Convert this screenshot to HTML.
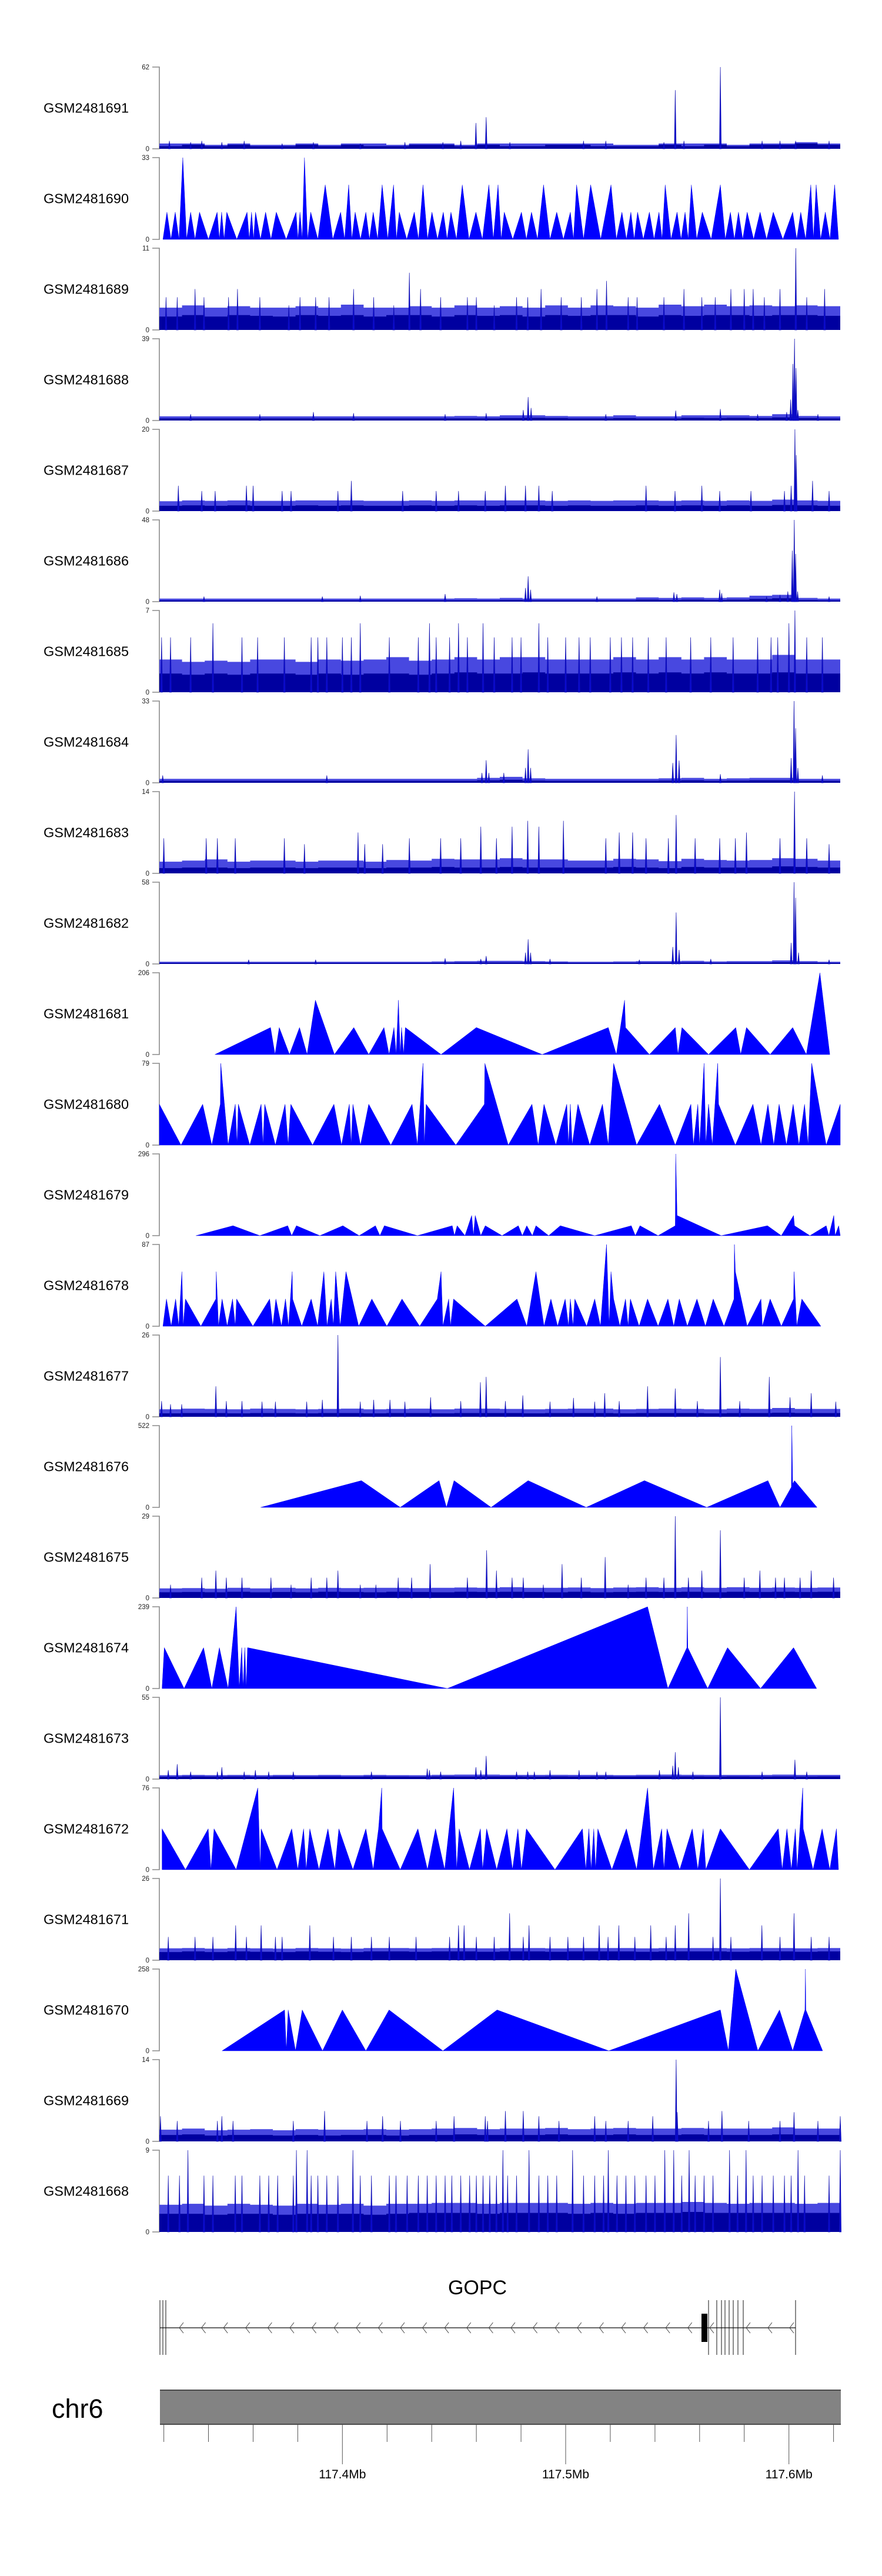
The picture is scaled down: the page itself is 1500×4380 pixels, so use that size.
<!DOCTYPE html>
<html><head><meta charset="utf-8"><title>GOPC tracks</title>
<style>
html,body{margin:0;padding:0;background:#fff;}
svg{display:block;font-family:"Liberation Sans",Arial,sans-serif;}
</style></head>
<body>
<svg id="chart" width="1500" height="4380" viewBox="0 0 1500 4380" xmlns="http://www.w3.org/2000/svg">
<rect x="0" y="0" width="1500" height="4380" fill="#fff"/>
<g id="tracks"></g>
<g id="gene">
  <text x="812" y="3901" font-size="34" text-anchor="middle" fill="#000">GOPC</text>
  <line x1="272" y1="3958" x2="1353" y2="3958" stroke="#333" stroke-width="1.6"/>
  <g id="chevrons"></g>
  <g id="exonlines"></g>
  <rect x="1193" y="3934" width="10" height="48" fill="#000"/>
</g>
<g id="ideo">
  <text x="88" y="4111" font-size="45" fill="#000">chr6</text>
  <rect x="272" y="4064" width="1158" height="58" fill="#838383"/>
  <line x1="272" y1="4064" x2="1430" y2="4064" stroke="#4a4a4a" stroke-width="2"/>
  <line x1="272" y1="4122" x2="1430" y2="4122" stroke="#4a4a4a" stroke-width="2"/>
  <g id="gticks"></g>
</g>
</svg>
<script>
// ---------- axis / layout constants ----------
const X0 = 117.318, X1 = 117.623;
const PX0 = 271, PX1 = 1429;
const tickMb = [117.32,117.34,117.36,117.38,117.40,117.42,117.44,117.46,117.48,117.50,117.52,117.54,117.56,117.58,117.60,117.62];
const majorMb = [117.4,117.5,117.6];
const majorLabels = ["117.4Mb","117.5Mb","117.6Mb"];

// ---------- track metadata ----------
const trackNames = ["GSM2481691","GSM2481690","GSM2481689","GSM2481688","GSM2481687","GSM2481686","GSM2481685","GSM2481684","GSM2481683","GSM2481682","GSM2481681","GSM2481680","GSM2481679","GSM2481678","GSM2481677","GSM2481676","GSM2481675","GSM2481674","GSM2481673","GSM2481672","GSM2481671","GSM2481670","GSM2481669","GSM2481668"];
const trackMax = [62,33,11,39,20,48,7,33,14,58,206,79,296,87,26,522,29,239,55,76,26,258,14,9];

// ---------- dense tracks: base band, upper band, spikes (kb offset / value) ----------
const base691=[2,3,2,3,2,2,3,2,3,2,2,3,3,2,3,2,2,3,3,2,2,2,3,2,3,2,3,3,4,3];
const mid691=[4,4,3,4,3,3,4,3,4,4,3,4,4,3,4,4,4,4,4,4,3,3,4,4,4,3,4,4,5,4];
const spkPos691=[4.5,14,19,28,38,55,69,90,110,127,135,141.8,146.4,157,190,200,226,231.1,235,251.3,270,278,285,300];
const spkVal691=[6,5,6,5,6,4,5,4,5,5,6,19.6,24,5,6,6,5,44.5,6,62,6,6,6,6];

const base689=[1.8,2,1.8,2,1.9,1.8,2,1.9,2,1.8,2,2,1.8,2,1.9,2,1.8,2,1.9,2,2,1.8,2,1.9,2,2,1.9,2,2,1.9];
const mid689=[3,3.3,3,3.2,3,3,3.2,3,3.4,3,3,3.2,3,3.3,3,3.2,3,3.3,3,3.3,3.2,3,3.4,3.2,3.4,3.2,3.3,3.2,3.3,3.2];
const spkPos689=[3,8,16,20,31,35,45,58,63,70,76,87,96,105,112,117,126,138,142,150,160,165,171,180,189,196,200.3,210,214,226,235,243,249,256,262,266,271,278,285.1,290,298];
const spkVal689=[4.4,4.4,5.5,4.4,4.4,5.5,4.4,3.3,4.4,4.4,4.4,5.5,4.4,3.3,7.7,5.5,4.4,4.4,4.4,3.3,4.4,4.4,5.5,4.4,4.4,5.5,6.6,4.4,4.4,4.4,5.5,4.4,4.4,5.5,5.5,5.5,4.4,5.5,11,4.4,5.5];

const base688=[1,1,1,1,1,1,1,1,1,1,1,1,1,1,1,1.2,1.3,1.2,1,1,1.2,1,1,1.3,1.2,1.3,1.2,1.5,1.2,1];
const mid688=[2,2,2,2,2,2,2,2,2,2,2,2,2,2.2,2,2.5,2.5,2.2,2,2,2.5,2,2,2.5,2.5,2.5,2.2,3,2.2,2];
const spkPos688=[14,45,69,87,128,146.4,163,165.2,166.5,200,231.3,251.3,268,281,282.8,283.8,284.5,285.2,286,295];
const spkVal688=[3,3,4,3.5,3,3.5,5,11.2,6,3,4.7,5.5,3,4,10,27,39,25,5,3];

const base687=[1.3,1.4,1.3,1.4,1.3,1.3,1.4,1.3,1.4,1.3,1.3,1.4,1.3,1.4,1.3,1.4,1.4,1.3,1.4,1.3,1.3,1.4,1.3,1.4,1.3,1.4,1.3,1.5,1.4,1.3];
const mid687=[2.4,2.6,2.5,2.6,2.5,2.5,2.6,2.6,2.6,2.5,2.5,2.6,2.5,2.6,2.6,2.6,2.6,2.5,2.6,2.5,2.6,2.6,2.5,2.6,2.5,2.6,2.5,2.8,2.6,2.5];
const spkPos687=[8.5,19,25,39,42,55,59,80,86,109,124,134,146,155,164,170,176,218,231,243,251,265,280,283,284.7,285.3,292.6,300];
const spkVal687=[6.2,4.9,4.9,6.2,6.2,4.9,4.9,4.9,7.4,4.9,4.9,4.9,4.9,6.2,6.2,6.2,4.9,6.2,4.9,6.2,4.9,4.9,4.9,6.2,20,13.7,7.4,4.9];

const base686=[0.8,0.8,0.8,0.8,0.8,0.8,0.8,0.8,0.8,0.8,0.8,0.8,0.8,0.8,0.8,1,0.8,0.8,0.8,0.8,0.8,1.2,1,1.2,1,1.2,1.6,2,1,0.8];
const mid686=[1.8,1.8,1.8,1.8,1.8,1.8,1.8,1.8,1.8,1.8,1.8,1.8,1.8,2,1.8,2.2,1.8,1.8,1.8,1.8,1.8,2.5,2.2,2.5,2.2,2.5,3.5,4,2.2,1.8];
const spkPos686=[20,73,90,128,164,165.2,166.3,196,230.5,231.8,251,251.9,272,278,281.5,283.5,284.4,285,285.9,300];
const spkVal686=[3,3,3.5,4.5,8,14.9,7,3,5.5,4.5,7,5,3,4,6,30,48,28,6,3];

const base685=[1.6,1.5,1.6,1.5,1.6,1.6,1.5,1.6,1.5,1.6,1.6,1.5,1.6,1.7,1.6,1.6,1.7,1.6,1.6,1.6,1.7,1.6,1.7,1.6,1.7,1.6,1.6,1.7,1.6,1.6];
const mid685=[2.8,2.6,2.7,2.6,2.8,2.8,2.6,2.8,2.7,2.8,3,2.7,2.8,3,2.8,3,3,2.8,2.8,2.8,3,2.8,3,2.8,3,2.8,2.8,3.2,2.8,2.8];
const spkPos685=[1,5,14,24,37,44,56,68,71,75,82,86,90,103,116,121,124,130,134,138,145,150,158,162,170,174,182,188,193,202,207,212,219,227,238,247,257,268,274,277,282,284.7,290,297];
const spkVal685=[4.7,4.7,4.7,5.9,4.7,4.7,4.7,4.7,4.7,4.7,4.7,4.7,5.9,4.7,4.7,5.9,4.7,4.7,5.9,4.7,5.9,4.7,4.7,4.7,5.9,4.7,4.7,4.7,4.7,4.7,4.7,4.7,4.7,4.7,4.7,4.7,4.7,4.7,4.7,4.7,5.9,7,4.7,4.7];

const base684=[0.8,0.8,0.8,0.8,0.8,0.8,0.8,0.8,0.8,0.8,0.8,0.8,0.8,0.8,1,1.2,0.9,0.8,0.8,0.8,0.8,0.8,0.9,1,0.8,0.9,1,1,0.8,0.8];
const mid684=[1.6,1.6,1.6,1.6,1.6,1.6,1.6,1.6,1.6,1.6,1.6,1.6,1.6,1.6,2,2.4,1.8,1.6,1.6,1.6,1.6,1.6,1.8,2,1.6,1.8,2,2,1.6,1.6];
const spkPos684=[1.5,75,144.5,146.4,147.6,154.3,164,165.2,166.3,230,231.5,232.8,251.3,283,284.3,285,286,297];
const spkVal684=[3,3,4,9.1,4,4,6,13.5,6,8,19.3,9,3.5,10,33,22,6,3];

const base683=[0.9,1,1,0.9,1,1,0.9,1,1,0.9,1,1,1.1,1,1,1.1,1,1,1,1,1.1,1,0.9,1.1,1,1,1,1.2,1.1,1];
const mid683=[2,2.2,2.4,2,2.2,2.2,2,2.2,2.2,2,2.3,2.2,2.5,2.4,2.4,2.6,2.4,2.4,2.2,2.2,2.5,2.4,2.1,2.5,2.3,2.2,2.3,2.6,2.5,2.2];
const spkPos683=[2,21,26,34,56,65,89,92,100,112,126,135,144,151,158,165,170,181,200,206,212,218,228,231.5,240,251,258,263,278,284.5,290,300];
const spkVal683=[6,6,6,6,6,5,7,5,5,6,6,6,8,6,8,9,8,9,6,7,7,6,6,10,6,6,6,7,6,14,6,5];

const base682=[0.8,0.8,0.8,0.8,0.8,0.8,0.8,0.8,0.8,0.8,0.8,0.8,0.8,0.9,1,1,1,0.9,0.8,0.8,0.8,0.9,0.9,1,0.8,0.9,0.9,1.2,0.9,0.8];
const mid682=[1.6,1.6,1.6,1.6,1.6,1.6,1.6,1.6,1.6,1.6,1.6,1.6,1.8,2,2.2,2.2,2,1.8,1.6,1.6,1.8,2,2,2.2,1.8,2,2,2.5,2,1.6];
const spkPos682=[40,70,128,144,146.4,164,165.2,166.3,175,215,230,231.5,232.8,247,283,284.3,285,286.3,300];
const spkVal682=[3,3,4,3.5,5.6,8,17.5,8,3.5,3,12,36.5,10,3.5,15,58,47,8,3];

const base677=[1.1,1.2,1.2,1.1,1.2,1.2,1.1,1.2,1.2,1.1,1.2,1.2,1.1,1.2,1.2,1.2,1.1,1.2,1.2,1.2,1.1,1.2,1.2,1.2,1.1,1.2,1.2,1.3,1.2,1.2];
const mid677=[2.4,2.6,2.5,2.4,2.6,2.5,2.4,2.5,2.6,2.4,2.5,2.6,2.4,2.6,2.6,2.5,2.4,2.5,2.6,2.6,2.4,2.5,2.6,2.5,2.4,2.6,2.5,2.8,2.5,2.5];
const spkPos677=[1,5,10,25.3,30,37,46,52,66,73,80,90,96,103.3,110,121.5,135,143.8,146.4,155,162.8,175,185.5,195,199.5,206,218.7,231.1,241,251.3,260,273.2,282.5,292,303];
const spkVal677=[5,4,4,9.7,5,5,4.8,4.8,4.8,5.4,26,4.8,5.4,5.4,4.8,6.2,5,11,12.7,5,6.8,4.8,6,4.8,7.5,5,9.7,9,5,19,5,12.7,6.2,7.5,4.8];

const base675=[2,2.1,2,2.2,2,2.1,2,2.2,2.1,2,2.2,2.1,2,2.2,2.1,2.2,2.1,2,2.2,2,2.1,2.2,2.1,2.2,2,2.2,2.1,2.2,2.1,2.2];
const mid675=[3.4,3.5,3.3,3.6,3.4,3.6,3.4,3.6,3.5,3.6,3.6,3.5,3.6,3.7,3.6,3.8,3.6,3.6,3.7,3.5,3.7,3.8,3.6,3.8,3.6,3.8,3.6,3.7,3.6,3.7];
const spkPos675=[5,19,25.3,30,37,50,59,68,75,80,90,97,107,113,121.3,138,146.6,151,158,163,172,180.4,189,199.7,210,218,226,231.1,237,243,251.3,262,269,276,280,287,292,302];
const spkVal675=[4.7,7.2,9.7,7.2,7.2,7.2,4.7,7.2,7.2,9.7,4.7,4.7,7.2,7.2,12,7.2,16.9,9.7,7.2,7.2,4.7,12,7.2,14.5,4.7,7.2,7.2,29,7.2,9.7,24,7.2,9.7,7.2,7.2,7.2,9.7,7.2];

const base673=[1.6,1.8,1.7,1.8,1.6,1.8,1.7,1.8,1.6,1.8,1.7,1.6,1.8,1.7,1.8,1.8,1.7,1.8,1.7,1.8,1.7,1.8,1.8,1.8,1.7,1.8,1.7,1.8,1.7,1.8];
const mid673=[2.6,2.8,2.7,2.8,2.6,2.8,2.7,2.8,2.6,2.8,2.7,2.6,2.9,3,3,2.8,2.8,2.9,2.8,2.8,2.7,2.9,3,2.9,2.8,2.8,2.8,3,2.8,2.8];
const spkPos673=[4,8,14,26,28,38,43,49,60,95,120,121,126,141.8,144,146.4,160,165,168,175,188,196,200,224,230,231.1,232.5,239,251.3,270,284.7,290];
const spkVal673=[6,10,5,5,8,5,6,5,5,5,7,6,5,8,6,15.6,5,5,5,6,6,5,5,6,9,18.1,8,5,55,5,13,5];

const base671=[2.6,2.8,2.6,2.8,2.7,2.6,2.8,2.7,2.6,2.8,2.8,2.7,2.8,2.8,2.7,2.8,2.8,2.7,2.8,2.8,2.8,2.7,2.8,2.8,2.8,2.7,2.8,2.8,2.7,2.8];
const mid671=[3.8,3.9,3.7,3.9,3.8,3.7,3.9,3.8,3.7,3.9,3.9,3.8,3.9,3.9,3.8,3.9,3.9,3.8,3.9,3.9,3.9,3.8,3.9,3.9,3.9,3.8,3.9,3.9,3.8,3.9];
const spkPos671=[4,16,24,34.2,39,45.6,52,55,67.4,78,86,95,103,115,130,134,136.5,142,150,156.9,163,165.6,175,183,190,197,201,205.8,213,220.1,227,231.1,237.1,248,251.3,256,269.9,278,284.3,292,300];
const spkVal671=[7.4,7.4,7.4,11.1,7.4,11.1,7.4,7.4,11.1,7.4,7.4,7.4,7.4,7.4,7.4,11.1,11.1,7.4,7.4,14.9,7.4,11.1,7.4,7.4,7.4,11.1,7.4,11.1,7.4,11.1,7.4,11.1,14.9,7.4,26,7.4,11.1,7.4,14.9,7.4,7.4];

const base669=[1.1,1.2,1,1.1,1.1,1,1.1,1,1.1,1.1,1,1.1,1.1,1.2,1.1,1.1,1.1,1.2,1.1,1.1,1.2,1.1,1.1,1.2,1.1,1.1,1.1,1.2,1.1,1.1];
const mid669=[2,2.2,1.9,2,2.1,1.9,2.1,2,2,2.1,2,2.1,2.2,2.3,2.1,2.2,2.2,2.3,2.1,2.2,2.3,2.2,2.2,2.3,2.2,2.2,2.2,2.4,2.2,2.2];
const spkPos669=[0.5,8,26,28,33,60,74,93,100,108,124,132,146,147,155,163,170,179,195,200,210,221,231.5,232,246,252,264,278,284.3,295,305];
const spkVal669=[4.3,3.5,3.5,4.3,3.5,3.5,5.2,3.5,4.3,3.5,3.5,4.3,4.3,3.5,5.2,5.2,4.3,3.5,4.3,3.5,3.5,4.3,14,5,3.5,5.2,3.5,3.5,5,3.5,4.3];

const base668=[2,2,1.9,2,2,1.9,2,2,2,1.9,2,2.1,2.1,2.1,2,2.1,2.1,2.1,2,2.1,2,2.1,2.1,2.2,2.1,2.1,2.1,2.1,2.1,2.1];
const mid668=[3,3.1,2.9,3.1,3,2.9,3.1,3,3.1,2.9,3.1,3.1,3.2,3.2,3.1,3.2,3.2,3.2,3.1,3.2,3.1,3.2,3.2,3.3,3.2,3.1,3.2,3.2,3.1,3.2];
const spkPos668=[12.8,61.4,66.2,86.7,153.9,165.6,185.1,201.1,226.4,230.4,237.3,255.4,262.8,286.1,305,4,9,20,24,34,37,45,49,53,60,68,71,75,80,90,95,103,106,111,116,120,124,128,131,135,139,142,145,148,151,156,160,170,174,178,190,195,199,205,209,213,218,222,234,240,244,248,259,266,270,275,280,283,289,300];
const spkVal668=[9,9,9,9,9,9,9,9,9,9,9,9,9,9,9,6.2,6.2,6.2,6.2,6.2,6.2,6.2,6.2,6.2,6.2,6.2,6.2,6.2,6.2,6.2,6.2,6.2,6.2,6.2,6.2,6.2,6.2,6.2,6.2,6.2,6.2,6.2,6.2,6.2,6.2,6.2,6.2,6.2,6.2,6.2,6.2,6.2,6.2,6.2,6.2,6.2,6.2,6.2,6.2,6.2,6.2,6.2,6.2,6.2,6.2,6.2,6.2,6.2,6.2,6.2];

// ---------- sparse (triangle) tracks: vertex positions (kb offset) / values ----------
const peakPos690=[3.4,7.1,10.5,14.0,18.0,25.9,27.9,30.2,39.3,41.3,43.1,47.6,52.4,61.2,63.0,65.0,67.8,74.3,81.2,84.8,87.7,92.5,95.8,99.8,104.9,107.5,114.2,118.1,122.1,127.2,130.6,135.7,141.8,147.6,151.7,154.5,162.2,166.7,172.1,178.0,184.1,186.9,193.2,202.3,207.2,211.2,214.2,219.5,223.8,226.6,231.9,235.5,238.3,243.2,251.3,255.8,259.4,263.3,269.1,275.0,283.7,287.3,291.8,294.2,298.3,302.5];
const peakVal690=[11,11,33,11,11,11,11,11,11,11,11,11,11,11,11,33,11,22,11,22,11,11,11,22,22,11,11,22,11,11,11,22,11,22,22,11,11,11,22,11,11,22,22,22,11,11,11,11,11,22,11,11,22,11,22,11,11,11,11,11,11,11,22,22,11,22];
const valleyPos690=[1.6,5.2,8.8,12.2,16.0,22.0,26.9,29.0,34.7,40.3,42.2,45.3,50.0,56.8,62.1,64.0,66.4,71.0,77.7,83.0,86.2,90.1,94.1,97.8,102.3,106.2,110.8,116.1,120.1,124.6,128.9,133.1,138.7,144.7,149.6,153.1,158.3,164.4,169.4,175.0,181.0,185.5,190.0,197.7,204.7,209.2,212.7,216.8,221.6,225.2,229.2,233.7,236.9,240.7,247.2,253.5,257.6,261.3,266.2,272.0,279.3,285.5,289.5,293.0,296.2,300.4,304.2];

const pos681=[24.9,49.8,51.8,53.7,58.3,62.8,66.2,69.9,78.4,87.1,93.8,100.6,102.9,105.1,106.1,107.1,107.9,108.5,109.4,110.2,126.2,142.0,171.5,201.1,204.7,208.4,208.8,219.5,231.1,232.3,234.1,246.0,258.2,260.4,263.0,273.6,283.7,289.8,295.9,300.3];
const val681=[0,68,0,68,0,68,0,137,0,68,0,68,0,68,0,137,0,68,0,68,0,68,0,68,0,137,68,0,68,0,68,0,68,0,68,0,68,0,206,0];

const pos680=[0,9.7,19.4,23.5,27.3,27.5,30.8,34.0,34.8,35.4,40.5,45.6,46.4,47.2,52.0,56.3,57.7,58.9,68.6,78.2,81.6,85.1,85.9,86.7,90.1,93.8,103.7,113.2,115.6,118.1,118.7,119.5,132.8,145.6,145.8,156.3,166.9,169.7,172.3,177.6,182.5,183.3,184.1,184.9,187.5,192.8,198.5,201.1,203.5,213.8,224.0,231.1,238.1,239.2,241.2,242.0,244.0,244.8,246.0,247.7,250.1,250.5,258.0,265.9,269.5,272.6,275.2,277.6,280.9,283.9,286.5,289.0,290.6,292.2,298.7,305];
const val680=[39.5,0,39.5,0,39.5,79,0,39.5,0,39.5,0,39.5,0,39.5,0,39.5,0,39.5,0,39.5,0,39.5,0,39.5,0,39.5,0,39.5,0,79,0,39.5,0,39.5,79,0,39.5,0,39.5,0,39.5,0,39.5,0,39.5,0,39.5,0,79,0,39.5,0,39.5,0,39.5,0,79,0,39.5,0,79,39.5,0,39.5,0,39.5,0,39.5,0,39.5,0,39.5,0,79,0,39.5];

const pos679=[16.4,33.0,45.0,57.5,59.3,61.4,71.9,82.2,89.5,96.8,98.8,100.8,115.6,131.2,132.2,133.4,136.9,139.9,140.7,141.5,144.0,146.0,153.5,160.8,162.6,164.6,167.1,168.7,174.4,179.6,195.0,211.4,213.2,215.3,223.4,231.1,231.3,231.9,251.7,272.4,278.6,284.1,284.5,291.4,298.7,299.9,302.1,302.7,304.3,305];
const val679=[0,36,0,36,0,36,0,36,0,36,0,36,0,36,0,36,0,73,0,73,0,36,0,36,0,36,0,36,0,36,0,36,0,36,0,36,296,73,0,36,0,73,36,0,36,0,73,0,36,0];

const pos678=[1.6,3.2,5.3,7.3,8.7,10.1,10.7,11.7,18.6,25.3,25.5,26.5,28.1,30.4,32.8,34.0,34.6,41.9,49.4,50.8,52.2,54.7,56.5,57.9,59.5,59.7,63.8,68.0,70.9,73.7,75.1,77.0,78.0,79.0,81.0,83.6,89.3,95.2,101.9,108.7,116.6,124.5,126.2,127.0,129.6,130.4,131.8,146.0,160.2,164.6,168.7,172.3,175.4,178.4,181.8,183.3,184.1,185.3,186.1,191.4,195.0,197.6,200.3,201.5,202.3,203.5,206.3,208.8,210.0,211.0,214.9,218.7,223.4,227.8,230.4,232.9,236.5,240.8,244.6,248.1,252.9,257.4,257.6,258.0,263.3,269.5,270.1,273.6,278.6,284.1,284.3,285.5,287.8,296.3];
const val678=[0,29,0,29,0,58,0,29,0,29,58,0,29,0,29,0,29,0,29,0,29,0,29,0,58,29,0,29,0,58,0,29,0,58,0,58,0,29,0,29,0,29,58,0,29,0,29,0,29,0,58,0,29,0,29,0,29,0,29,0,29,0,87,0,58,29,0,29,0,29,0,29,0,29,0,29,0,29,0,29,0,29,87,58,0,29,0,29,0,29,58,0,29,0];

const pos676=[45.4,90.5,107.9,125.3,128.6,132.0,148.6,165.2,191.2,217.3,245.2,272.6,278.0,283.1,283.3,283.7,284.5,294.6];
const val676=[0,171,0,171,0,171,0,171,0,171,0,171,0,130,522,150,171,0];

const pos674=[1.2,2.2,11.1,19.8,23.5,26.9,30.8,34.4,35.8,36.9,37.5,38.3,38.9,39.5,129.0,218.7,227.8,236.3,236.5,236.7,245.6,254.5,269.3,284.1,294.4];
const val674=[0,119.5,0,119.5,0,119.5,0,239,0,119.5,0,119.5,0,119.5,0,239,0,119.5,239,119.5,0,119.5,0,119.5,0];

const pos672=[1.2,11.7,21.9,23.1,24.5,34.4,44.1,45.2,45.6,52.7,59.3,62.0,64.6,65.8,67.4,71.5,75.5,78.6,80.4,86.7,92.5,95.8,98.2,99.6,99.8,107.9,115.8,120.1,123.7,127.8,131.8,133.2,134.3,138.9,143.8,144.8,146.6,151.1,155.7,158.2,160.6,162.2,164.4,177.2,189.5,191.0,192.4,193.4,194.6,195.4,196.4,202.7,209.2,213.8,218.7,221.3,225.0,226.0,227.4,233.1,238.7,241.2,243.6,244.8,251.3,264.3,277.2,279.0,281.1,283.1,284.9,285.7,288.2,288.4,292.8,296.9,300.3,303.3,304.2];
const val672=[38,0,38,0,38,0,76,0,38,0,38,0,38,0,38,0,38,0,38,0,38,0,38,76,38,0,38,0,38,0,76,0,38,0,38,0,38,0,38,0,38,0,38,0,38,0,38,0,38,0,38,0,38,0,76,0,38,0,38,0,38,0,38,0,38,0,38,0,38,0,38,0,76,38,0,38,0,38,0];

const pos670=[28.1,56.1,56.9,57.7,61.0,64.0,73.1,82.0,92.5,102.9,127.0,151.3,201.3,251.3,254.9,258.2,268.1,277.8,283.7,289.2,289.4,289.6,297.1];
const val670=[0,129,0,129,0,129,0,129,0,129,0,129,0,129,0,258,0,129,0,129,258,129,0];

// ---------- helpers ----------
const NS = "http://www.w3.org/2000/svg";
function xMb(mb){ return PX0 + (mb - X0) / (X1 - X0) * (PX1 - PX0); }
function xKb(kb){ return xMb(X0 + kb / 1000); }
const TOP0 = 114, STEP = 154, H = 139;
function mk(tag, attrs, parent){
  const e = document.createElementNS(NS, tag);
  for (const k in attrs) e.setAttribute(k, attrs[k]);
  parent.appendChild(e);
  return e;
}
const tracksG = document.getElementById("tracks");

const denseMap = {
  "GSM2481691":[base691,mid691,spkPos691,spkVal691],
  "GSM2481689":[base689,mid689,spkPos689,spkVal689],
  "GSM2481688":[base688,mid688,spkPos688,spkVal688],
  "GSM2481687":[base687,mid687,spkPos687,spkVal687],
  "GSM2481686":[base686,mid686,spkPos686,spkVal686],
  "GSM2481685":[base685,mid685,spkPos685,spkVal685],
  "GSM2481684":[base684,mid684,spkPos684,spkVal684],
  "GSM2481683":[base683,mid683,spkPos683,spkVal683],
  "GSM2481682":[base682,mid682,spkPos682,spkVal682],
  "GSM2481677":[base677,mid677,spkPos677,spkVal677],
  "GSM2481675":[base675,mid675,spkPos675,spkVal675],
  "GSM2481673":[base673,mid673,spkPos673,spkVal673],
  "GSM2481671":[base671,mid671,spkPos671,spkVal671],
  "GSM2481669":[base669,mid669,spkPos669,spkVal669],
  "GSM2481668":[base668,mid668,spkPos668,spkVal668]
};
const sparseMap = {
  "GSM2481681":[pos681,val681],
  "GSM2481680":[pos680,val680],
  "GSM2481679":[pos679,val679],
  "GSM2481678":[pos678,val678],
  "GSM2481676":[pos676,val676],
  "GSM2481674":[pos674,val674],
  "GSM2481672":[pos672,val672],
  "GSM2481670":[pos670,val670]
};
(function(){
  const p = [], v = [];
  for (let i = 0; i < valleyPos690.length; i++){
    p.push(valleyPos690[i]); v.push(0);
    if (i < peakPos690.length){ p.push(peakPos690[i]); v.push(peakVal690[i]); }
  }
  sparseMap["GSM2481690"] = [p, v];
})();

function bandPath(arr, yv, bottom){
  const n = arr.length, span = 305 / n;
  let d = "M" + xKb(0) + "," + bottom;
  for (let i = 0; i < n; i++){
    const y = yv(arr[i]);
    d += " L" + xKb(i*span).toFixed(1) + "," + y.toFixed(1) + " L" + xKb((i+1)*span).toFixed(1) + "," + y.toFixed(1);
  }
  d += " L" + xKb(305) + "," + bottom + " Z";
  return d;
}

trackNames.forEach(function(name, i){
  const top = TOP0 + STEP * i, bottom = top + H, max = trackMax[i];
  const yv = function(v){ return bottom - Math.min(v, max) / max * H; };
  const g = mk("g", {}, tracksG);
  
  

  const lab = mk("text", {x:74, y:top + H/2 + 8, "font-size":23.5, fill:"#000"}, g);
  lab.textContent = name;
  
  

  const ax = mk("path", {d:"M259," + top + " H271 V" + bottom + " H259", fill:"none", stroke:"#8a8a8a", "stroke-width":1.6}, g);
  
  

  const tMax = mk("text", {x:254, y:top + 4, "font-size":11.5, fill:"#222", "text-anchor":"end"}, g);
  tMax.textContent = String(max);
  
  
  const tMin = mk("text", {x:254, y:bottom + 4, "font-size":11.5, fill:"#222", "text-anchor":"end"}, g);
  tMin.textContent = "0";
  
  

  if (denseMap[name]){
    const [base, mid, sp, sv] = denseMap[name];
    const m = mk("path", {d:bandPath(mid, yv, bottom), fill:"#4848e0"}, g);
    
    
    const b = mk("path", {d:bandPath(base, yv, bottom), fill:"#0000a0"}, g);
    
    
    for (let k = 0; k < sp.length; k++){
      const x = xKb(sp[k]);
      const s = mk("path", {d:"M" + (x-1.6).toFixed(1) + "," + bottom + " L" + x.toFixed(1) + "," + yv(sv[k]).toFixed(1) + " L" + (x+1.6).toFixed(1) + "," + bottom + " Z", fill:"#0a0ad0", stroke:"#0c0cb0", "stroke-width":0.7}, g);
      
      
    }
  } else if (sparseMap[name]){
    const [p, v] = sparseMap[name];
    let d = "M" + xKb(p[0]).toFixed(1) + "," + bottom;
    for (let k = 0; k < p.length; k++) d += " L" + xKb(p[k]).toFixed(1) + "," + yv(v[k]).toFixed(1);
    d += " L" + xKb(p[p.length-1]).toFixed(1) + "," + bottom + " Z";
    const poly = mk("path", {d:d, fill:"#0000ff", stroke:"#0000ee", "stroke-width":0.5}, g);
    
    
  }
});

// ---------- gene model decorations ----------
const chevG = document.getElementById("chevrons");
const chevX = [];
for (let x = 308; x <= 1175; x += 37.6) chevX.push(x);
chevX.push(1210, 1272, 1309, 1346);
chevX.forEach(function(x){
  const c = mk("path", {d:"M" + (x+4) + ",3949 L" + (x-3) + ",3958 L" + (x+4) + ",3967", fill:"none", stroke:"#444", "stroke-width":1}, chevG);
  
  
});
const exonG = document.getElementById("exonlines");
[272,277,282,1205,1219,1227,1233,1240,1247,1255,1264,1353].forEach(function(x){
  const l = mk("line", {x1:x, y1:3911, x2:x, y2:4004, stroke:"#111", "stroke-width":1}, exonG);
  
  
});

// ---------- genome axis ----------
const gt = document.getElementById("gticks");
tickMb.forEach(function(mb){
  const x = xMb(mb);
  const isMajor = majorMb.some(function(m){ return Math.abs(m - mb) < 1e-6; });
  const t = mk("line", {x1:x.toFixed(1), y1:4123, x2:x.toFixed(1), y2:isMajor ? 4190 : 4152, stroke:"#555", "stroke-width":1}, gt);
  
  
});
majorMb.forEach(function(mb, k){
  const t = mk("text", {x:xMb(mb).toFixed(1), y:4214, "font-size":21, "text-anchor":"middle", fill:"#000"}, gt);
  t.textContent = majorLabels[k];
  
  
});
</script>
</body></html>
